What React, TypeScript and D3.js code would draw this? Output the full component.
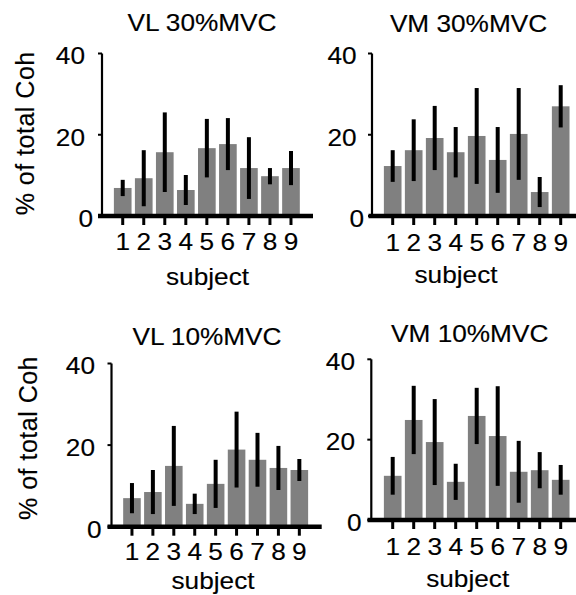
import React from "react";
import * as d3 from "d3";

const subjects = ["1", "2", "3", "4", "5", "6", "7", "8", "9"];
const yTicks = [0, 20, 40];

const vl30Mean = [6.9, 9.3, 15.7, 6.4, 16.7, 17.7, 11.8, 9.8, 11.8];
const vl30Err = [2.0, 6.9, 9.8, 3.7, 7.2, 6.4, 7.6, 2.0, 4.2];
const vm30Mean = [12.3, 16.2, 19.2, 15.7, 19.7, 13.8, 20.2, 5.9, 27.0];
const vm30Err = [3.9, 7.6, 7.9, 6.2, 11.8, 8.1, 11.3, 3.7, 5.2];
const vl10Mean = [7.0, 8.5, 14.9, 5.6, 10.5, 18.9, 16.4, 14.4, 13.9];
const vl10Err = [3.7, 5.4, 9.8, 2.5, 5.9, 9.3, 6.6, 5.4, 2.7];
const vm10Mean = [11.0, 24.9, 19.4, 9.5, 25.9, 20.9, 12.0, 12.4, 10.0];
const vm10Err = [4.7, 8.5, 10.7, 4.5, 7.0, 12.4, 7.7, 4.5, 3.7];

const titles = ["VL 30%MVC", "VM 30%MVC", "VL 10%MVC", "VM 10%MVC"];
const yLabelText = "% of total Coh";
const xLabelText = "subject";

const panels = [
  {
    title: titles[0], mean: vl30Mean, err: vl30Err,
    tx: 202, ty: 31, ax: 102, y0: 216, y40: 53.5, band: [112.2, 301.5], xl: [98, 313],
    tickY: 250, subX: 207.5, subY: 285, yLab: { x: 33.5, y: 133.3 }, ytr: 85, ytr0: 93,
  },
  {
    title: titles[1], mean: vm30Mean, err: vm30Err,
    tx: 468.5, ty: 31.7, ax: 372, y0: 216, y40: 53.5, band: [382.2, 571.2], xl: [368.5, 576],
    tickY: 250.5, subX: 456, subY: 283, yLab: null, ytr: 356.7, ytr0: 364,
  },
  {
    title: titles[2], mean: vl10Mean, err: vl10Err,
    tx: 207, ty: 345, ax: 111.5, y0: 526.7, y40: 363.5, band: [121.5, 309.8], xl: [107.5, 321.7],
    tickY: 560, subX: 213, subY: 589, yLab: { x: 36.5, y: 438 }, ytr: 95, ytr0: 101.7,
  },
  {
    title: titles[3], mean: vm10Mean, err: vm10Err,
    tx: 469.7, ty: 341.7, ax: 371.3, y0: 520, y40: 359.3, band: [382.2, 571.2], xl: [367.5, 576],
    tickY: 555, subX: 467.7, subY: 587.3, yLab: null, ytr: 355, ytr0: 361.7,
  },
];

const FONT = "'Liberation Sans', Arial, Helvetica, sans-serif";
const SX = 1.07;
const FS = 24.5;
const TXT = { fontFamily: FONT, fill: "#000", stroke: "#000", strokeWidth: 0.15 };

function Panel({ p }: { p: any }) {
  const x = d3.scaleBand<string>().domain(subjects).range(p.band).paddingInner(0.16).paddingOuter(0.08);
  const y = d3.scaleLinear().domain([0, 40]).range([p.y0, p.y40]);
  const bw = x.bandwidth();
  return (
    <g>
      <text transform={`translate(${p.tx},${p.ty}) scale(${SX},1)`} textAnchor="middle" fontSize={FS} {...TXT}>
        {p.title}
      </text>
      {p.mean.map((m: number, i: number) => (
        <rect key={"b" + i} x={x(subjects[i])} y={y(m)} width={bw} height={y(0) - y(m)} fill="#808080" />
      ))}
      {p.mean.map((m: number, i: number) => (
        <line key={"e" + i} x1={(x(subjects[i]) as number) + bw / 2} x2={(x(subjects[i]) as number) + bw / 2}
          y1={y(m - p.err[i])} y2={y(m + p.err[i])} stroke="#000" strokeWidth={4} />
      ))}
      <line x1={p.ax} x2={p.ax} y1={y(0)} y2={y(40)} stroke="#000" strokeWidth={2.2} />
      {yTicks.map((t) => (
        <g key={"yt" + t}>
          <line x1={p.ax - 4} x2={p.ax} y1={y(t)} y2={y(t)} stroke="#000" strokeWidth={2} />
          <text transform={`translate(${t === 0 ? p.ytr0 : p.ytr},${y(t) + 10.8}) scale(${SX},1)`} textAnchor="end"
            fontSize={FS} {...TXT}>{t}</text>
        </g>
      ))}
      <line x1={p.xl[0]} x2={p.xl[1]} y1={y(0)} y2={y(0)} stroke="#000" strokeWidth={4.5} />
      {subjects.map((s) => {
        const cx = (x(s) as number) + bw / 2;
        return (
          <g key={"xt" + s}>
            <line x1={cx} x2={cx} y1={y(0)} y2={y(0) + 9} stroke="#000" strokeWidth={3} />
            <text transform={`translate(${cx},${p.tickY}) scale(${SX},1)`} textAnchor="middle" fontSize={FS} {...TXT}>{s}</text>
          </g>
        );
      })}
      <text transform={`translate(${p.subX},${p.subY}) scale(${SX},1)`} textAnchor="middle" fontSize={FS} {...TXT}>
        {xLabelText}
      </text>
      {p.yLab && (
        <text transform={`translate(${p.yLab.x},${p.yLab.y}) rotate(-90)`} textAnchor="middle" fontSize={25} letterSpacing={0.5}
          {...TXT}>{yLabelText}</text>
      )}
    </g>
  );
}

export default function App() {
  return (
    <svg width={576} height={595} style={{ position: "absolute", left: 0, top: 0, background: "#fff" }}>
      <rect x={0} y={0} width={576} height={595} fill="#fff" />
      {panels.map((p, i) => <Panel key={i} p={p} />)}
    </svg>
  );
}
